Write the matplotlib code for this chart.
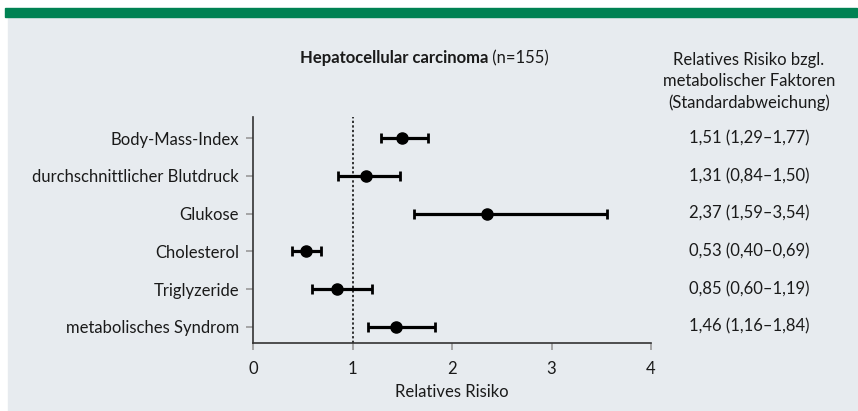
import matplotlib
matplotlib.use("Agg")
import matplotlib.pyplot as plt
import matplotlib.transforms as mtransforms
from matplotlib.patches import Rectangle
import numpy as np

# data
factors = ["Body-Mass-Index", "durchschnittlicher Blutdruck", "Glukose",
           "Cholesterol", "Triglyzeride", "metabolisches Syndrom"]
rr_point = [1.50, 1.14, 2.35, 0.53, 0.845, 1.44]
rr_low = [1.29, 0.85, 1.615, 0.39, 0.595, 1.16]
rr_high = [1.76, 1.48, 3.56, 0.685, 1.20, 1.83]
rr_labels = ["1,51 (1,29–1,77)", "1,31 (0,84–1,50)", "2,37 (1,59–3,54)",
             "0,53 (0,40–0,69)", "0,85 (0,60–1,19)", "1,46 (1,16–1,84)"]
x_ticks = [0, 1, 2, 3, 4]

plt.rcParams['font.family'] = ['Lato', 'DejaVu Sans']
W, H = 858, 411
FS = 12
TXT = "#1a1a1a"
fig = plt.figure(figsize=(W / 100, H / 100), dpi=100)
fig.patch.set_facecolor("white")

# panel background and green band
fig.add_artist(Rectangle((8 / W, 0), (857 - 8) / W, 1 - 17.5 / H,
                         transform=fig.transFigure, color="#e7ebef", zorder=0))
fig.add_artist(Rectangle((5 / W, 1 - 17.5 / H), (857 - 5) / W, 9.5 / H,
                         transform=fig.transFigure, color="#008253", zorder=0))

ax = fig.add_axes([253 / W, 1 - 343 / H, 398 / W, 226 / H])
ax.set_facecolor("none")

y = np.arange(len(factors))
pt = np.array(rr_point)
ax.errorbar(pt, y, xerr=[pt - np.array(rr_low), np.array(rr_high) - pt],
            fmt="o", color="black", ms=8, elinewidth=2.3, capsize=3.3,
            capthick=2, zorder=3)
ax.axvline(1, color="black", ls=(0, (1.5, 1.5)), lw=1.1, zorder=2)

ax.set_xlim(0, 4)
ax.set_ylim(5.43, -0.565)
ax.set_xticks(x_ticks)
ax.set_yticks(y)
ax.set_yticklabels(factors)

for s in ["top", "right"]:
    ax.spines[s].set_visible(False)
for s in ["left", "bottom"]:
    ax.spines[s].set_color("#333333")
    ax.spines[s].set_linewidth(1.2)

ax.tick_params(axis="y", length=5, width=1.2, color="#999999", pad=5,
               labelsize=FS, labelcolor=TXT)
ax.tick_params(axis="x", length=5, width=1.2, color="#999999", pad=8,
               labelsize=FS, labelcolor=TXT)
xt = ax.xaxis.get_major_ticks()
xt[0].tick1line.set_color("#333333")
xt[-1].tick1line.set_color("#333333")
ax.set_xlabel("Relatives Risiko", fontsize=FS, color=TXT, labelpad=5)

# right column
trans = mtransforms.blended_transform_factory(fig.transFigure, ax.transData)
for yi, lab in zip(y, rr_labels):
    ax.text(749 / W, yi, lab, transform=trans, ha="center", va="center",
            fontsize=FS, color=TXT)
for i, line in enumerate(["Relatives Risiko bzgl.", "metabolischer Faktoren",
                          "(Standardabweichung)"]):
    fig.text(749 / W, 1 - (60 + 21.5 * i) / H, line, ha="center", va="center",
             fontsize=FS, color=TXT)

t1 = fig.text(300 / W, 1 - 58 / H, "Hepatocellular carcinoma", ha="left",
              va="center", fontsize=FS, fontweight="bold", color=TXT)
ax.annotate(" (n=155)", xy=(1, 0.5), xycoords=t1, va="center", ha="left",
            fontsize=FS, color=TXT)

fig.savefig("out.png", dpi=100)
